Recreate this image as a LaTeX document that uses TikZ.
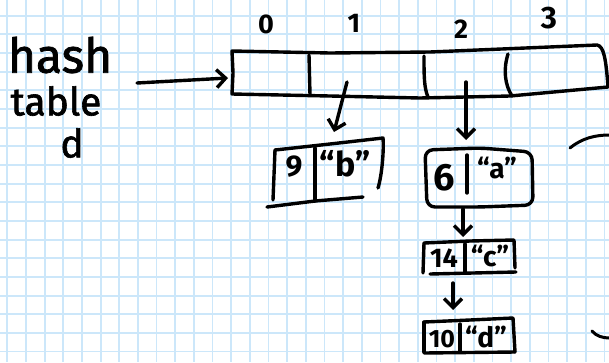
\documentclass[tikz,border=0pt]{standalone}
\usepackage{fontspec}
\setmainfont{Fira Sans}
\newfontfamily\inkfont[FakeBold=1.6]{Fira Sans}
\usetikzlibrary{arrows.meta}
\definecolor{gridblue}{RGB}{204,231,250}
\tikzset{
  gridline/.style={draw=gridblue, line width=1.8pt},
  ink/.style={draw=black, line width=3.4pt, line cap=round, line join=round},
  pointer/.style={ink, -{Straight Barb[length=9pt,width=18pt,line width=3.4pt]}},
  lbl/.style={inner sep=0pt, font=\fontsize{27}{29}\selectfont\bfseries},
  cell/.style={inner sep=0pt, font=\fontsize{30}{32}\selectfont\bfseries},
  quoted/.style={inner sep=0pt, font=\fontsize{28}{30}\selectfont\bfseries},
  hand/.style={inner sep=0pt, font=\fontsize{48}{50}\inkfont},
}
\begin{document}
\begin{tikzpicture}[x=1pt,y=-1pt]
\useasboundingbox (0,0) rectangle (609,362);
\fill[white] (0,0) rectangle (609,362);
% squared paper
\foreach \i in {0,...,32} \draw[gridline] (7.3+18.66*\i,0) -- ++(0,362);
\foreach \k in {0,...,18} \draw[gridline] (0,15.7+18.66*\k) -- ++(609,0);

% caption on the left
\node[hand] (lhash) at (60,55) {hash};
\node[hand, font=\fontsize{39}{41}\inkfont] (ltable) at (56,101) {table};
\node[hand, font=\fontsize{39}{41}\inkfont] (ld) at (72,143) {d};

% the bucket array
\draw[ink] (233,73) -- (232,51) -- (330,53) -- (430,52) -- (597,45)
  .. controls (604,46) and (606,60) .. (608,87)
  -- (510,96) -- (420,98) -- (330,96) -- (232,94) -- (233,73);
\draw[ink] (309,55) -- (310,95);
\draw[ink] (424,56) .. controls (424,75) and (424,88) .. (428,97);
\draw[ink] (508,54) .. controls (503,70) and (505,85) .. (512,96);
\coordinate (arr) at (228,78);
\coordinate (c1) at (347,82);
\coordinate (c2) at (466,82);
\node[lbl] (i0) at (266,24) {0};
\node[lbl] (i1) at (354,23) {1};
\node[lbl] (i2) at (461,29) {2};
\node[lbl, font=\fontsize{31}{33}\selectfont\bfseries] (i3) at (549,18) {3};

% entry 9 -> "b"
\draw[ink] (275,150) -- (273,200);
\draw[ink] (275,150) -- (330,144) -- (383,138) .. controls (384,150) and (382,175) .. (378,188);
\draw[ink] (267,207) -- (315,201) -- (363,197);
\draw[ink] (315,148) -- (315,201);
\node[cell] (n9) at (294,167) {9};
\node[quoted, font=\fontsize{34}{36}\selectfont\bfseries] (nb) at (345,164) {“b”};
\coordinate (b9) at (334,132);

% entry 6 -> "a"
\draw[ink, rounded corners=8pt] (425,150) -- (480,148) -- (532,152) -- (533,205) -- (480,207) -- (427,207) -- cycle;
\draw[ink] (467,155) -- (467,193);
\node[cell, font=\fontsize{38}{40}\selectfont\bfseries] (n6) at (444,178) {6};
\node[quoted] (na) at (497,168) {“a”};
\coordinate (t6) at (466,140);
\coordinate (bot6) at (463,209);

% entry 14 -> "c"
\draw[ink] (424,243) -- (423,273);
\draw[ink] (424,243) -- (470,241) -- (514,240) -- (515,268);
\draw[ink] (430,274) -- (516,272);
\draw[ink] (465,244) -- (465,272);
\node[cell, font=\fontsize{27}{29}\selectfont\bfseries] (n14) at (444,258) {14};
\node[quoted] (nc) at (490,256) {“c”};
\coordinate (t14) at (463,237);
\coordinate (bot14) at (453,283);

% entry 10 -> "d"
\draw[ink] (424,322) -- (424,352);
\draw[ink] (424,322) -- (470,320) -- (513,318) -- (515,352);
\draw[ink] (424,353) -- (515,352);
\draw[ink] (460,324) -- (460,352);
\node[cell, font=\fontsize{25}{27}\selectfont\bfseries] (n10) at (442,339) {10};
\node[quoted] (nd) at (486,337) {“d”};
\coordinate (t10) at (453,310);

% pointers
\coordinate (from) at (137,83);
\draw[pointer] (from) -- (arr);
\draw[pointer] (c1) -- (b9);
\draw[pointer] (c2) -- (t6);
\draw[pointer] (bot6) -- (t14);
\draw[pointer] (bot14) -- (t10);

% partly visible strokes at the right edge
\draw[ink, line width=3pt] (570,148) .. controls (582,138) and (596,135) .. (609,135);
\draw[ink, line width=3pt] (592,331) .. controls (596,336) and (603,338) .. (609,338);
\end{tikzpicture}
\end{document}
